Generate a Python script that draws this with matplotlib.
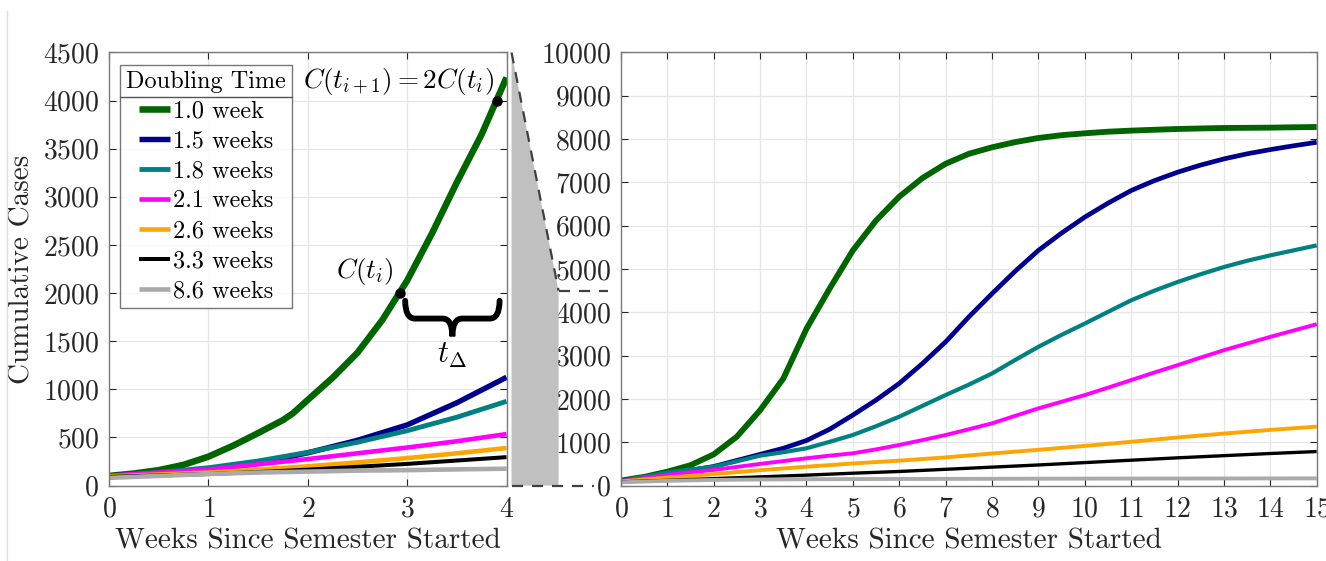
import matplotlib
matplotlib.use('Agg')
import matplotlib.pyplot as plt
import numpy as np
from matplotlib.path import Path
from matplotlib.patches import PathPatch, Polygon
from matplotlib.lines import Line2D

plt.rcParams['font.family'] = 'cmr10'
plt.rcParams['mathtext.fontset'] = 'cm'
plt.rcParams['axes.formatter.use_mathtext'] = True

labels = ['1.0 week', '1.5 weeks', '1.8 weeks', '2.1 weeks', '2.6 weeks', '3.3 weeks', '8.6 weeks']
colors = ['#006400', '#00008b', '#008080', '#ff00ff', '#ffa500', '#000000', '#aaaaaa']
widths = [4.2, 3.4, 3.0, 2.8, 2.8, 2.4, 2.8]

# left panel: first four weeks
left_green_weeks = [0, 0.25, 0.5, 0.75, 1, 1.25, 1.5, 1.75, 1.85, 2, 2.25, 2.5, 2.75, 3, 3.25, 3.5, 3.75, 4]
left_green = [100, 125, 160, 215, 300, 415, 545, 680, 750, 890, 1120, 1380, 1720, 2130, 2620, 3150, 3650, 4240]
left_weeks = [0, 0.5, 1, 1.5, 2, 2.5, 3, 3.5, 4]
left_blue = [100, 125, 165, 230, 340, 470, 630, 860, 1125]
left_teal = [100, 135, 185, 255, 345, 450, 570, 710, 875]
left_magenta = [100, 135, 165, 220, 275, 335, 395, 460, 535]
left_orange = [95, 115, 135, 165, 200, 240, 285, 335, 390]
left_black = [90, 105, 120, 140, 165, 195, 225, 260, 295]
left_gray = [80, 100, 120, 135, 145, 155, 160, 168, 175]

# doubling annotation points
t_i = 2.93
c_ti = 2000
t_next = 3.9
c_next = 4000

# right panel: whole semester
right_fine_weeks = [0, 0.5, 1, 1.5, 2, 2.5, 3, 3.5, 4, 4.5, 5, 5.5, 6, 6.5, 7, 7.5,
                    8, 8.5, 9, 9.5, 10, 10.5, 11, 11.5, 12, 12.5, 13, 13.5, 14, 14.5, 15]
right_green = [115, 200, 320, 470, 720, 1130, 1740, 2470, 3620, 4550, 5430, 6120, 6670, 7100, 7430, 7660,
               7810, 7930, 8025, 8090, 8133, 8170, 8195, 8215, 8233, 8245, 8256, 8260, 8264, 8272, 8279]
right_blue = [90, 170, 270, 350, 440, 580, 720, 860, 1040, 1300, 1628, 1974, 2358, 2818, 3318, 3894,
              4431, 4950, 5430, 5830, 6198, 6520, 6812, 7040, 7235, 7400, 7542, 7660, 7757, 7845, 7926]
right_teal = [100, 200, 300, 370, 437, 560, 690, 770, 860, 1010, 1167, 1370, 1590, 1840, 2090, 2330,
              2588, 2900, 3203, 3480, 3740, 4010, 4278, 4500, 4700, 4880, 5046, 5190, 5315, 5430, 5545]
right_magenta = [100, 170, 246, 305, 361, 430, 500, 565, 630, 690, 745, 835, 937, 1050, 1167, 1300,
                 1436, 1610, 1782, 1935, 2089, 2260, 2435, 2610, 2780, 2955, 3126, 3280, 3433, 3580, 3725]
right_weeks = [0, 1, 2, 3, 4, 5, 6, 7, 8, 9, 10, 11, 12, 13, 14, 15]
right_orange = [95, 185, 265, 355, 435, 510, 575, 650, 740, 825, 915, 1010, 1110, 1200, 1285, 1360]
right_black = [85, 120, 160, 200, 240, 285, 325, 375, 425, 475, 530, 585, 640, 690, 740, 785]
right_gray = [75, 110, 130, 140, 145, 150, 152, 154, 156, 158, 160, 161, 162, 163, 164, 165]

fig = plt.figure(figsize=(13.26, 5.61), dpi=100)
ax1 = fig.add_axes([0.0822, 0.1345, 0.2998, 0.772])
ax2 = fig.add_axes([0.4683, 0.1345, 0.5247, 0.772])

left_series = [(left_green_weeks, left_green), (left_weeks, left_blue), (left_weeks, left_teal),
               (left_weeks, left_magenta), (left_weeks, left_orange), (left_weeks, left_black),
               (left_weeks, left_gray)]
right_series = [(right_fine_weeks, right_green), (right_fine_weeks, right_blue), (right_fine_weeks, right_teal),
                (right_fine_weeks, right_magenta), (right_weeks, right_orange), (right_weeks, right_black),
                (right_weeks, right_gray)]

for (x, y), c, w, lab in zip(left_series, colors, widths, labels):
    ax1.plot(x, y, color=c, lw=w + 0.5, label=lab, solid_capstyle='butt')
for (x, y), c, w in zip(right_series, colors, widths):
    ax2.plot(x, y, color=c, lw=w, solid_capstyle='butt')

for ax in (ax1, ax2):
    ax.grid(True, color='#e6e6e6', lw=0.9)
    ax.set_axisbelow(True)
    ax.tick_params(direction='in', top=True, right=True, labelsize=20, colors='#262626', length=5,
                   width=0.8)
    ax.tick_params(axis='x', pad=8)
    ax.tick_params(axis='y', pad=7)
    for s in ax.spines.values():
        s.set_color('#7a7a7a')
        s.set_linewidth(1.0)
    ax.set_xlabel('Weeks Since Semester Started', fontsize=21, color='#262626', labelpad=4)

ax1.set_xlim(0, 4)
ax1.set_ylim(0, 4500)
ax1.set_xticks(range(0, 5))
ax1.set_yticks(range(0, 4501, 500))
ax1.set_ylabel('Cumulative Cases', fontsize=21, color='#262626', labelpad=5)

ax2.set_xlim(0, 15)
ax2.set_ylim(0, 10000)
ax2.set_xticks(range(0, 16))
ax2.set_yticks(range(0, 10001, 1000))

# doubling-time annotation
ax1.plot([t_i, t_next], [c_ti, c_next], 'o', color='k', ms=6.5, zorder=5)
ax1.text(t_i - 0.06, c_ti + 60, r'$C(t_i)$', fontsize=19.5, ha='right', va='bottom')
ax1.text(t_next - 0.03, c_next + 40, r'$C(t_{i+1}) = 2C(t_i)$', fontsize=19.5, ha='right', va='bottom')

x0, x1, ytop, depth = 2.98, 3.93, 1920, 370
xm = (x0 + x1) / 2
r = 0.1
yh = ytop - depth / 2
verts = [(x0, ytop), (x0, yh), (x0 + r, yh), (xm - r, yh), (xm, yh), (xm, ytop - depth),
         (xm, yh), (xm + r, yh), (x1 - r, yh), (x1, yh), (x1, ytop)]
codes = [Path.MOVETO, Path.CURVE3, Path.CURVE3, Path.LINETO, Path.CURVE3, Path.CURVE3,
         Path.CURVE3, Path.CURVE3, Path.LINETO, Path.CURVE3, Path.CURVE3]
ax1.add_patch(PathPatch(Path(verts, codes), fill=False, lw=4.2, color='k', capstyle='round'))
ax1.text(xm, ytop - depth - 50, r'$t_\Delta$', fontsize=22, ha='center', va='top')

leg = ax1.legend(loc='upper left', bbox_to_anchor=(0.028, 0.972), borderaxespad=0, fontsize=17.5,
                 title='Doubling Time', title_fontsize=17.5, frameon=True, fancybox=False,
                 edgecolor='#555555', handlelength=1.3, handletextpad=0.12, labelspacing=0.32,
                 borderpad=0.25)
leg.get_frame().set_linewidth(1.0)

fig.canvas.draw()

# separator line under the legend title
inv = fig.transFigure.inverted()
lb = leg.get_window_extent()
tb = leg.get_title().get_window_extent()
ysep = inv.transform((0, tb.y0 - 4))[1]
xl = inv.transform((lb.x0, 0))[0]
xr = inv.transform((lb.x1, 0))[0]
fig.add_artist(Line2D([xl, xr], [ysep, ysep], color='#555555', lw=1.0))

# zoom connector between panels
def fig_xy(ax, x, y):
    return inv.transform(ax.transData.transform((x, y)))

top_l = fig_xy(ax1, 4, 4500)
bot_l = fig_xy(ax1, 4, 0)
mid_r = fig_xy(ax2, 0, 4500)
bot_r = fig_xy(ax2, 0, 0)
xa = top_l[0] + 5 / 1326
xb = xa + 47 / 1326
poly = Polygon([(xa, top_l[1]), (xb, mid_r[1]), (xb, bot_r[1]), (xa, bot_l[1])], closed=True,
               facecolor='#c0c0c0', edgecolor='none')
fig.add_artist(poly)
dash = dict(color='#404040', lw=1.6, ls=(0, (5, 4)))
fig.add_artist(Line2D([xa, xb], [top_l[1], mid_r[1]], **dash))
fig.add_artist(Line2D([xb, xb + 49 / 1326], [mid_r[1], mid_r[1]], **dash))
fig.add_artist(Line2D([xa, xa + 82 / 1326], [bot_l[1], bot_l[1]], **dash))

# thin frame line at left edge
fig.add_artist(Line2D([7 / 1326, 7 / 1326], [0, 1 - 11 / 561], color='#dddddd', lw=1.0))

fig.savefig('out.png', dpi=100)
